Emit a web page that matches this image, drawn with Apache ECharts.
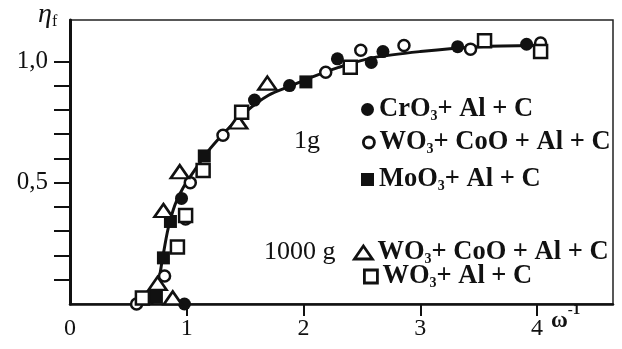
<!DOCTYPE html>
<html>
<head>
<meta charset="utf-8">
<script src="https://cdn.jsdelivr.net/npm/echarts@6/dist/echarts.min.js"></script>
<style>
  html, body { margin: 0; padding: 0; background: #fff; }
  #chart { width: 622px; height: 349px; }
</style>
</head>
<body>
<div id="chart"></div>
<script>
// 1 g samples
const crO3 = [[0.98, 0.0], [0.955, 0.435], [1.58, 0.84], [1.88, 0.9], [2.29, 1.01], [2.58, 0.995], [2.68, 1.04], [3.32, 1.06], [3.91, 1.07]];
const wo3CoO = [[0.57, 0.0], [0.81, 0.115], [0.99, 0.35], [1.03, 0.5], [1.31, 0.695], [2.19, 0.955], [2.49, 1.045], [2.86, 1.065], [3.43, 1.05], [4.03, 1.075]];
const moO3 = [[0.74, 0.03], [0.8, 0.19], [0.86, 0.34], [1.15, 0.61], [2.02, 0.915]];
// 1000 g samples
const wo3CoO1000 = [[0.88, 0.025], [0.75, 0.085], [0.8, 0.385], [0.94, 0.545], [1.44, 0.75], [1.69, 0.91]];
const wo31000 = [[0.62, 0.025], [0.92, 0.235], [0.99, 0.365], [1.14, 0.55], [1.47, 0.79], [2.4, 0.975], [3.55, 1.085], [4.03, 1.04]];
// hand drawn trend curve
const curve = [[0.7, 0.0], [0.75, 0.07], [0.79, 0.18], [0.84, 0.31], [0.9, 0.41], [0.97, 0.48], [1.08, 0.56], [1.2, 0.64], [1.35, 0.72], [1.5, 0.79], [1.7, 0.86], [1.9, 0.9], [2.1, 0.94], [2.3, 0.975], [2.6, 1.015], [3.0, 1.04], [3.5, 1.06], [4.0, 1.065]];

const xTicks = [1, 2, 3, 4];
const xLabels = [0, 1, 2, 3, 4];
const yTicks = [0.1, 0.2, 0.3, 0.4, 0.5, 0.6, 0.7, 0.8, 0.9, 1.0];
const yLabels = [0.5, 1.0];

const serif = 'Liberation Serif';
const black = '#111';

const chart = echarts.init(document.getElementById('chart'));

function legendName(name) {
  const parts = name.split('3');
  return '{b|' + parts[0] + '}{s|3}{b|' + parts[1] + '}';
}
const legendText = {
  color: black,
  rich: {
    b: { fontFamily: serif, fontWeight: 'bold', fontSize: 26.5, lineHeight: 28, color: black },
    s: { fontFamily: serif, fontWeight: 'bold', fontSize: 14, lineHeight: 12, verticalAlign: 'bottom', color: black }
  }
};
function oneLegend(name, left, top, w, h) {
  return {
    data: [name], left: left, top: top, itemWidth: w, itemHeight: h, itemGap: 4,
    selectedMode: false, formatter: legendName, textStyle: legendText, padding: 0,
    itemStyle: { borderWidth: 2.8 }
  };
}

const filled = { color: black, opacity: 1 };
const open = { color: '#fff', borderColor: black, borderWidth: 2.5, opacity: 1 };

const option = {
  animation: false,
  grid: { left: 70, right: 9, top: 20, bottom: 45, show: true, borderColor: '#222', borderWidth: 1.5 },
  xAxis: {
    type: 'value', min: 0, max: 4.65,
    axisLine: { lineStyle: { color: black, width: 2.5 } },
    axisTick: { customValues: xTicks, length: 12, lineStyle: { color: black, width: 2 } },
    axisLabel: { customValues: xLabels, margin: 13, fontFamily: serif, fontSize: 24, color: black },
    splitLine: { show: false }
  },
  yAxis: {
    type: 'value', min: 0, max: 1.17,
    axisLine: { show: true, lineStyle: { color: black, width: 3 } },
    axisTick: { customValues: yTicks, length: 16, lineStyle: { color: black, width: 2 } },
    axisLabel: {
      customValues: yLabels, margin: 22, fontFamily: serif, fontSize: 25, color: black,
      formatter: v => v.toFixed(1).replace('.', ',')
    },
    splitLine: { show: false }
  },
  legend: [
    oneLegend('CrO3+ Al + C', 361, 96, 13, 13),
    oneLegend('WO3+ CoO + Al + C', 362, 129, 11, 11),
    oneLegend('MoO3+ Al + C', 361, 166, 13, 13),
    oneLegend('WO3+ CoO + Al + C ', 353, 239, 18, 13),
    oneLegend('WO3+ Al + C', 363, 263, 13, 13)
  ],
  graphic: [
    { type: 'text', left: 38, top: 1, style: { text: '{e|η}{f|f}', rich: {
      e: { fontFamily: serif, fontStyle: 'italic', fontSize: 28, lineHeight: 30, fill: black },
      f: { fontFamily: serif, fontSize: 16, lineHeight: 14, verticalAlign: 'bottom', fill: black } } } },
    { type: 'text', left: 551, top: 303, style: { text: '{w|ω}{p|-1}', rich: {
      w: { fontFamily: serif, fontWeight: 'bold', fontSize: 23, lineHeight: 30, verticalAlign: 'bottom', fill: black },
      p: { fontFamily: serif, fontWeight: 'bold', fontSize: 15, lineHeight: 14, verticalAlign: 'top', fill: black } } } },
    { type: 'text', left: 294, top: 128, style: { text: '1g', font: '26px "Liberation Serif"', fill: black } },
    { type: 'text', left: 264, top: 239, style: { text: '1000 g', font: '26px "Liberation Serif"', fill: black } }
  ],
  series: [
    {
      name: 'curve', type: 'line', data: curve, smooth: 0.3, symbol: 'none',
      lineStyle: { color: black, width: 3 }, z: 1
    },
    { name: 'CrO3+ Al + C', type: 'scatter', data: crO3, symbol: 'circle', symbolSize: 13, itemStyle: filled, z: 3 },
    { name: 'WO3+ CoO + Al + C', type: 'scatter', data: wo3CoO, symbol: 'circle', symbolSize: 11, itemStyle: open, z: 4 },
    { name: 'MoO3+ Al + C', type: 'scatter', data: moO3, symbol: 'rect', symbolSize: 13, itemStyle: filled, z: 3 },
    { name: 'WO3+ CoO + Al + C ', type: 'scatter', data: wo3CoO1000, symbol: 'triangle', symbolSize: [18, 13], itemStyle: open, z: 4 },
    { name: 'WO3+ Al + C', type: 'scatter', data: wo31000, symbol: 'rect', symbolSize: 13, itemStyle: open, z: 4 }
  ]
};

chart.setOption(option);
</script>
</body>
</html>
